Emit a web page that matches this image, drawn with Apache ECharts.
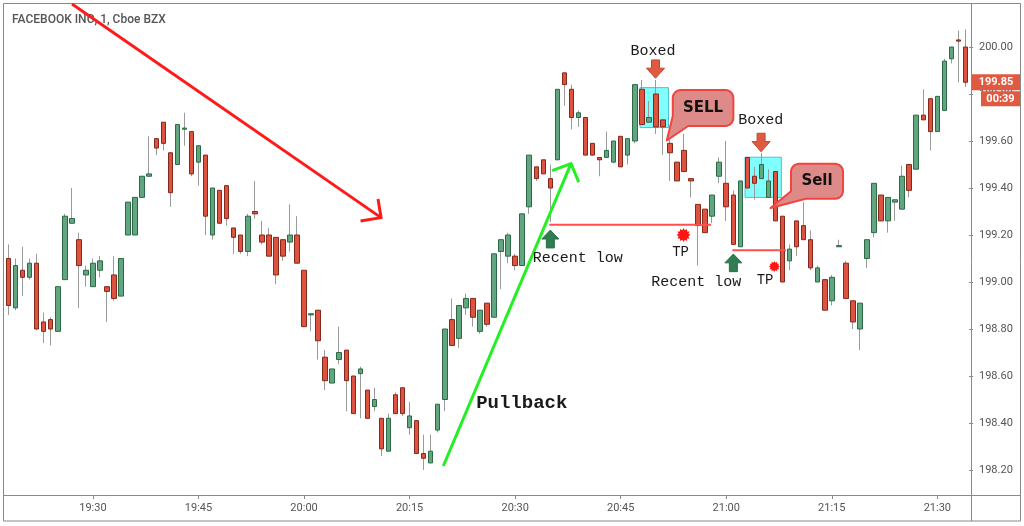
<!DOCTYPE html>
<html><head><meta charset="utf-8">
<script src="https://cdn.jsdelivr.net/npm/echarts@6/dist/echarts.min.js"></script>
<style>html,body{margin:0;padding:0;background:#fff;}#c{width:1024px;height:526px;}</style>
</head><body><div id="c"></div>
<script>
// ---------- DATA ----------
const times = [
 '19:18','19:19','19:20','19:21','19:22','19:23','19:24','19:25','19:26','19:27','19:28','19:29',
 '19:30','19:31','19:32','19:33','19:34','19:35','19:36','19:37','19:38','19:39','19:40','19:41',
 '19:42','19:43','19:44','19:45','19:46','19:47','19:48','19:49','19:50','19:51','19:52','19:53',
 '19:54','19:55','19:56','19:57','19:58','19:59',
 '20:00','20:01','20:02','20:03','20:04','20:05','20:06','20:07','20:08','20:09','20:10','20:11',
 '20:12','20:13','20:14','20:15','20:16','20:17','20:18','20:19','20:20','20:21','20:22','20:23',
 '20:24','20:25','20:26','20:27','20:28','20:29','20:30','20:31','20:32','20:33','20:34','20:35',
 '20:36','20:37','20:38','20:39','20:40','20:41','20:42','20:43','20:44','20:45','20:46','20:47',
 '20:48','20:49','20:50','20:51','20:52','20:53','20:54','20:55','20:56','20:57','20:58','20:59',
 '21:00','21:01','21:02','21:03','21:04','21:05','21:06','21:07','21:08','21:09','21:10','21:11',
 '21:12','21:13','21:14','21:15','21:16','21:17','21:18','21:19','21:20','21:21','21:22','21:23',
 '21:24','21:25','21:26','21:27','21:28','21:29','21:30','21:31','21:32','21:33','21:34'
];
const openP = [
 199.10,198.89,199.05,199.02,199.08,198.83,198.84,198.79,199.01,199.25,
 199.18,199.03,198.98,199.05,198.98,199.03,198.94,199.20,199.20,199.36,
 199.45,199.61,199.68,199.55,199.50,199.65,199.64,199.51,199.54,199.20,
 199.39,199.41,199.23,199.20,199.13,199.30,199.20,199.20,199.19,199.18,
 199.17,199.20,199.05,198.86,198.88,198.68,198.57,198.67,198.71,198.60,
 198.61,198.54,198.47,198.42,198.28,198.52,198.55,198.38,198.41,198.27,
 198.23,198.37,198.50,198.84,198.76,198.89,198.93,198.79,198.91,198.85,
 199.13,199.11,199.11,199.07,199.32,199.49,199.52,199.44,199.52,199.89,
 199.82,199.70,199.70,199.59,199.53,199.53,199.51,199.62,199.54,199.60,
 199.82,199.68,199.80,199.69,199.59,199.51,199.56,199.44,199.33,199.31,
 199.28,199.45,199.42,199.37,199.15,199.53,199.45,199.44,199.36,199.47,
 199.28,199.09,199.26,199.24,199.18,199.00,199.01,198.92,199.15,199.08,
 198.92,198.80,199.10,199.21,199.37,199.26,199.34,199.31,199.50,199.48,
 199.71,199.78,199.64,199.73,199.95,200.03,200.00
];
const closeP = [
 198.90,199.07,199.02,199.08,198.80,198.79,198.80,198.98,199.28,199.27,
 199.07,199.05,199.08,199.09,198.96,198.93,199.10,199.34,199.36,199.45,
 199.46,199.57,199.59,199.38,199.67,199.655,199.46,199.58,199.28,199.40,
 199.25,199.27,199.19,199.13,199.28,199.29,199.17,199.11,199.03,199.11,
 199.20,199.08,198.81,198.865,198.75,198.58,198.63,198.70,198.58,198.44,
 198.63,198.42,198.50,198.29,198.42,198.44,198.44,198.43,198.27,198.25,
 198.28,198.48,198.80,198.73,198.90,198.93,198.85,198.88,198.82,199.12,
 199.18,199.20,199.07,199.29,199.54,199.44,199.46,199.40,199.82,199.84,
 199.70,199.72,199.54,199.54,199.52,199.56,199.60,199.49,199.61,199.84,
 199.67,199.70,199.66,199.66,199.55,199.43,199.47,199.43,199.24,199.21,
 199.37,199.51,199.32,199.16,199.43,199.40,199.42,199.50,199.43,199.26,
 199.00,199.14,199.15,199.18,199.06,199.06,198.88,199.02,199.155,198.93,
 198.83,198.91,199.18,199.42,199.26,199.36,199.35,199.45,199.39,199.71,
 199.69,199.64,199.79,199.94,200.00,200.025,199.85
];
const lowP = [
 198.86,198.88,198.94,199.01,198.795,198.74,198.73,198.79,199.01,199.25,
 198.89,198.98,198.98,199.02,198.83,198.92,198.94,199.20,199.20,199.36,
 199.45,199.54,199.56,199.32,199.50,199.58,199.45,199.41,199.20,199.18,
 199.25,199.24,199.12,199.12,199.11,199.27,199.16,199.11,198.99,199.09,
 199.13,199.08,198.81,198.79,198.67,198.54,198.57,198.65,198.45,198.44,
 198.42,198.42,198.45,198.26,198.28,198.44,198.43,198.35,198.27,198.20,
 198.23,198.36,198.45,198.73,198.72,198.86,198.81,198.78,198.81,198.85,
 198.97,199.08,199.05,199.07,199.29,199.43,199.46,199.255,199.52,199.75,
 199.65,199.66,199.54,199.54,199.45,199.53,199.505,199.49,199.50,199.59,
 199.67,199.68,199.63,199.54,199.43,199.43,199.47,199.36,199.07,199.21,
 199.25,199.42,199.26,199.16,199.15,199.40,199.35,199.44,199.36,199.26,
 199.00,199.05,199.11,199.18,199.05,199.00,198.88,198.90,199.15,198.93,
 198.80,198.71,199.06,199.19,199.26,199.21,199.26,199.31,199.36,199.48,
 199.69,199.56,199.64,199.73,199.93,199.85,199.83
];
const highP = [
 199.16,199.10,199.15,199.10,199.12,198.87,198.85,198.98,199.29,199.40,
 199.21,199.07,199.10,199.11,198.98,199.11,199.10,199.34,199.36,199.45,
 199.62,199.61,199.68,199.55,199.67,199.72,199.64,199.58,199.54,199.40,
 199.39,199.41,199.23,199.20,199.29,199.43,199.26,199.23,199.19,199.18,
 199.33,199.28,199.05,198.865,198.88,198.71,198.63,198.81,198.71,198.60,
 198.64,198.54,198.55,198.42,198.44,198.53,198.55,198.49,198.41,198.35,
 198.35,198.48,198.80,198.93,198.90,198.95,198.93,198.88,198.91,199.12,
 199.18,199.21,199.12,199.29,199.54,199.49,199.52,199.50,199.82,199.89,
 199.84,199.73,199.70,199.59,199.53,199.64,199.60,199.62,199.61,199.84,
 199.86,199.77,199.86,199.69,199.63,199.51,199.63,199.44,199.33,199.31,
 199.37,199.53,199.60,199.39,199.43,199.53,199.49,199.55,199.48,199.47,
 199.28,199.16,199.26,199.34,199.22,199.07,199.01,199.03,199.18,199.09,
 198.92,198.91,199.18,199.42,199.37,199.36,199.35,199.495,199.50,199.71,
 199.82,199.78,199.79,199.95,200.00,200.07,200.075
];
const yTicks = [198.2,198.4,198.6,198.8,199.0,199.2,199.4,199.6,199.8,200.0];
const timeTickMinutes = [0,15,30,45];
const titleText = 'FACEBOOK INC, 1, Cboe BZX';
const countdownText = '00:39';

// annotation anchors in data units: [candle index, price]
const trendLine = [[9.02,200.183],[52.94,199.274]];
const trendHead = [[50.03,199.26],[52.94,199.274],[52.51,199.353]];
const pullLine = [[61.79,198.217],[79.94,199.504]];
const pullHead = [[77.24,199.474],[79.94,199.504],[81.04,199.425]];
const pullLabel = {at:[72.94,198.483], text:'Pullback'};
const lowLines = [[[76.86,199.244],[99.84,199.244]], [[102.87,199.135],[110.5,199.135]]];
const upArrows = [[77.0,199.221,199.145],[103.01,199.119,199.044]];
const lowLabels = [{at:[80.91,199.104],text:'Recent low'},{at:[97.74,199.001],text:'Recent low'}];
const tpStars = [{at:[95.93,199.20],r:7},{at:[108.84,199.066],r:5.5}];
const tpLabels = [{at:[95.51,199.126],text:'TP'},{at:[107.52,199.009],text:'TP'}];
const boxes = [[[89.75,199.827],[93.80,199.657]],[[104.67,199.531],[109.83,199.36]]];
const downArrows = [[91.95,199.945,199.867],[106.95,199.633,199.554]];
const boxedLabels = [{at:[91.60,199.981],text:'Boxed'},{at:[106.92,199.689],text:'Boxed'}];
const bubbles = [
 {rect:[[94.40,199.817],[103.01,199.664]], tailA:[94.40,199.706], tip:[93.55,199.602], tailB:[96.6,199.664], text:'SELL'},
 {rect:[[111.2,199.503],[118.6,199.354]], tailA:[111.2,199.386], tip:[108.3,199.315], tailB:[113.3,199.354], text:'Sell'}
];

// ---------- CHART ----------
const chart = echarts.init(document.getElementById('c'), null, {renderer:'canvas'});
const tickFn = (idx, val) => timeTickMinutes.indexOf(+String(val).slice(3)) >= 0;
const Y_MIN = 198.2 - 25/235, Y_MAX = 200 + 44/235;

const wickData = times.map((t,i) => [openP[i], closeP[i], lowP[i], highP[i]]);
const bodyData = times.map((t,i) => [openP[i], closeP[i], Math.min(openP[i],closeP[i]), Math.max(openP[i],closeP[i])]);

chart.setOption({
  animation:false,
  grid:{left:5,right:55,top:3,bottom:31},
  xAxis:{type:'category', data:times, boundaryGap:true,
    axisLine:{show:false},
    axisTick:{show:true, alignWithLabel:true, interval:tickFn, length:4, lineStyle:{color:'#888'}},
    axisLabel:{interval:tickFn, color:'#555', fontSize:11, fontFamily:'Roboto', margin:8},
    splitLine:{show:false}},
  yAxis:{type:'value', position:'right', min:Y_MIN, max:Y_MAX, scale:true,
    axisLine:{show:false},
    axisTick:{show:true, length:4, customValues:yTicks, lineStyle:{color:'#888'}},
    axisLabel:{customValues:yTicks, formatter:v=>Number(v).toFixed(2), color:'#555', fontSize:11, fontFamily:'Roboto', margin:10},
    splitLine:{show:false}},
  series:[
    {type:'candlestick', name:'wick', data:wickData, barWidth:1, z:2, silent:true,
     itemStyle:{color:'#9a9a9a', color0:'#9a9a9a', borderColor:'#9a9a9a', borderColor0:'#9a9a9a', borderWidth:1}},
    {type:'candlestick', name:'body', data:bodyData, barWidth:5, z:3, silent:true,
     itemStyle:{color:'#62a681', color0:'#de5240', borderColor:'#2c6a46', borderColor0:'#82291b', borderWidth:1}}
  ]
});

// ---------- OVERLAYS ----------
const X0 = chart.convertToPixel({xAxisIndex:0}, times[0]);
const DX = chart.convertToPixel({xAxisIndex:0}, times[1]) - X0;
const P = (i, v) => [X0 + i*DX, chart.convertToPixel({yAxisIndex:0}, v)];
const els = [];
const Z = 100;

// frame
els.push({type:'rect', z:Z, shape:{x:3.5,y:3.5,width:1017,height:517.5}, style:{fill:null, stroke:'#8a8a8a', lineWidth:1}});
els.push({type:'line', z:Z, shape:{x1:971.5,y1:3.5,x2:971.5,y2:521}, style:{stroke:'#8a8a8a', lineWidth:1}});
els.push({type:'line', z:Z, shape:{x1:3.5,y1:495.5,x2:1020.5,y2:495.5}, style:{stroke:'#8a8a8a', lineWidth:1}});

// title
els.push({type:'text', z:Z, x:12, y:20, style:{text:titleText, font:'500 12px Roboto', fill:'#555', align:'left', verticalAlign:'middle', textAlign:'left', textVerticalAlign:'middle'}});

// boxes (below candles)
boxes.forEach(b => {
  const a = P(b[0][0], b[0][1]), c = P(b[1][0], b[1][1]);
  els.push({type:'rect', z:1, shape:{x:a[0], y:a[1], width:c[0]-a[0], height:c[1]-a[1]}, style:{fill:'#80ffff', stroke:'#58bccb', lineWidth:1}});
});

function text(at, str, font, fill) {
  const p = P(at[0], at[1]);
  els.push({type:'text', z:Z+2, x:p[0], y:p[1], style:{text:str, font:font, fill:fill||'#1a1a1a', align:'center', verticalAlign:'middle', textAlign:'center', textVerticalAlign:'middle'}});
}
function poly(pts, stroke, w) {
  els.push({type:'polyline', z:Z, shape:{points:pts.map(p=>P(p[0],p[1]))}, style:{stroke:stroke, lineWidth:w, fill:null, lineJoin:'miter', lineCap:'butt'}});
}

// trend arrow (red)
poly(trendLine, '#ff1a1a', 3);
poly(trendHead, '#ff1a1a', 3);
// pullback arrow (green)
poly(pullLine, '#22f022', 3);
poly(pullHead, '#22f022', 3);
text(pullLabel.at, pullLabel.text, 'bold 19px "Liberation Mono"', '#1a1a1a');

// recent low lines
lowLines.forEach(l => poly(l, '#ff4f4f', 2));
// up arrows
upArrows.forEach(a => {
  const t = P(a[0], a[1]), b = P(a[0], a[2]);
  const cx = t[0], top = t[1], bot = b[1], mid = top + (bot-top)*0.5;
  els.push({type:'polygon', z:Z, shape:{points:[[cx,top],[cx+8.5,mid],[cx+4,mid],[cx+4,bot],[cx-4,bot],[cx-4,mid],[cx-8.5,mid]]},
    style:{fill:'#2f7d50', stroke:'#2a6e47', lineWidth:1}});
});
lowLabels.forEach(l => text(l.at, l.text, '15px "Liberation Mono"'));
// TP stars
tpStars.forEach(s => {
  const c = P(s.at[0], s.at[1]); const pts = [];
  for (let k=0;k<24;k++){ const a = k*Math.PI/12; const r = k%2 ? s.r*0.72 : s.r; pts.push([c[0]+r*Math.cos(a), c[1]+r*Math.sin(a)]); }
  els.push({type:'polygon', z:Z, shape:{points:pts}, style:{fill:'#ff1414'}});
});
tpLabels.forEach(l => text(l.at, l.text, '14px "Liberation Mono"'));

// down arrows
downArrows.forEach(a => {
  const t = P(a[0], a[1]), b = P(a[0], a[2]);
  const cx = t[0], top = t[1], bot = b[1], mid = top + (bot-top)*0.45;
  els.push({type:'polygon', z:Z, shape:{points:[[cx-4,top],[cx+4,top],[cx+4,mid],[cx+9,mid],[cx,bot],[cx-9,mid],[cx-4,mid]]},
    style:{fill:'#de5b41', stroke:'#c2482f', lineWidth:1}});
});
boxedLabels.forEach(l => text(l.at, l.text, '15px "Liberation Mono"'));

// callout bubbles
function arc(cx, cy, r, a0, a1, out) {
  for (let k=0;k<=6;k++){ const a=(a0+(a1-a0)*k/6)*Math.PI/180; out.push([cx+r*Math.cos(a), cy+r*Math.sin(a)]); }
}
bubbles.forEach(b => {
  const p1 = P(b.rect[0][0], b.rect[0][1]), p2 = P(b.rect[1][0], b.rect[1][1]);
  const x1=p1[0], y1=p1[1], x2=p2[0], y2=p2[1], r=8;
  const A = P(b.tailA[0], b.tailA[1]), T = P(b.tip[0], b.tip[1]), B = P(b.tailB[0], b.tailB[1]);
  const pts = [];
  arc(x1+r, y1+r, r, 180, 270, pts);
  arc(x2-r, y1+r, r, 270, 360, pts);
  arc(x2-r, y2-r, r, 0, 90, pts);
  pts.push([B[0], y2], [T[0], T[1]], [x1, A[1]]);
  els.push({type:'polygon', z:Z+1, shape:{points:pts}, style:{fill:'#dd8a89', stroke:'#f0453f', lineWidth:2, lineJoin:'round'}});
  els.push({type:'text', z:Z+2, x:(x1+x2)/2, y:(y1+y2)/2, style:{text:b.text, font:'bold 15px "DejaVu Sans"', fill:'#111', align:'center', verticalAlign:'middle', textAlign:'center', textVerticalAlign:'middle'}});
});

// last price label
const last = closeP.length - 1;
const ly = chart.convertToPixel({yAxisIndex:0}, closeP[last]);
els.push({type:'rect', z:Z+3, shape:{x:972, y:ly-8, width:48, height:16}, style:{fill:'#e05a42'}});
els.push({type:'text', z:Z+4, x:996, y:ly, style:{text:closeP[last].toFixed(2), font:'bold 11px Roboto', fill:'#fff', align:'center', verticalAlign:'middle', textAlign:'center', textVerticalAlign:'middle'}});
els.push({type:'rect', z:Z+3, shape:{x:981, y:ly+9, width:39, height:15}, style:{fill:'#e05a42'}});
els.push({type:'text', z:Z+4, x:1000.5, y:ly+16.5, style:{text:countdownText, font:'bold 11px Roboto', fill:'#fff', align:'center', verticalAlign:'middle', textAlign:'center', textVerticalAlign:'middle'}});

chart.setOption({graphic:{elements:els}});
</script>
</body></html>
